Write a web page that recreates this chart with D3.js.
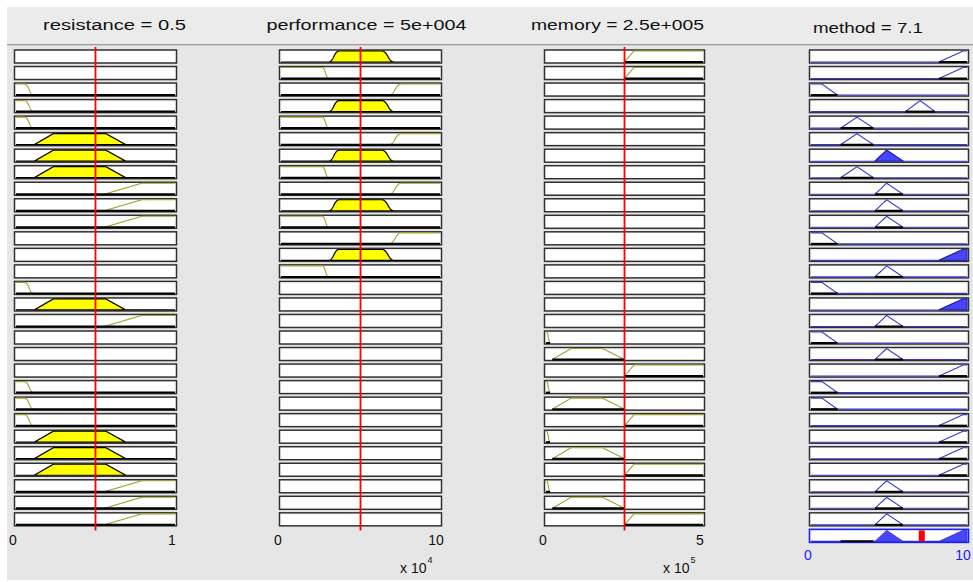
<!DOCTYPE html>
<html>
<head>
<meta charset="utf-8">
<script src="https://cdn.jsdelivr.net/npm/d3@7"></script>
<style>
  html, body { margin: 0; padding: 0; background: #ffffff; }
  svg { display: block; font-family: "Liberation Sans", Arial, sans-serif; }
</style>
</head>
<body>
<svg id="chart" width="973" height="582"></svg>
<script>
// ---- Fuzzy system: variables, current inputs and output ----
const variableNames = ["resistance", "performance", "memory", "method"];
const variableRanges = [[0, 1], [0, 10], [0, 5], [0, 10]];   // performance x1e4, memory x1e5
const inputValues = [0.5, 5, 2.5];
const outputValue = 7.1;
const titleLabels = ["resistance = 0.5", "performance = 5e+004", "memory = 2.5e+005", "method = 7.1"];
const tickLabels = [["0", "1"], ["0", "10"], ["0", "5"], ["0", "10"]];
const axisExponents = [null, "4", "5", null];

// Membership functions per variable: [type, params]
const resistanceMFs = [["zmf", [0.055, 0.11]], ["trapmf", [0.115, 0.235, 0.565, 0.69]], ["trapmf", [0.555, 0.79, 1, 1]]];
const performanceMFs = [["zmf", [2.6, 3.0]], ["pimf", [3.0, 3.65, 6.35, 7.1]], ["smf", [6.8, 7.55]]];
const memoryMFs = [["zmf", [0.02, 0.13]], ["trapmf", [0.2, 0.8, 1.8, 2.5]], ["trapmf", [2.5, 2.8, 5, 5]]];
const methodMFs = [["trapmf", [0, 0, 0.7, 1.7]], ["trimf", [1.9, 2.95, 4.0]], ["trimf", [4.1, 4.85, 5.9]],
                   ["trimf", [6.05, 7.0, 7.95]], ["trapmf", [8.2, 9.75, 10, 10]]];

// Rule base: membership function used by each rule (0 = variable not in the rule)
const resistanceRule  = [0,0,1,1,1,2,2,2,3,3,3,0,0,0,1,2,3,0,0,0,1,1,1,2,2,2,3,3,3];
const performanceRule = [2,1,3,2,1,3,2,1,3,2,1,3,2,1,0,0,0,0,0,0,0,0,0,0,0,0,0,0,0];
const memoryRule      = [3,3,0,0,0,0,0,0,0,0,0,0,0,0,0,0,0,1,2,3,1,2,3,1,2,3,1,2,3];
const methodRule      = [5,5,1,4,2,2,3,2,3,3,3,1,5,3,1,5,3,1,3,5,1,1,5,5,5,5,3,3,3];
const ruleFiring      = [0,0,0,0,0,0,1,0,0,0,0,0,1,0,0,1,0,0,0,0,0,0,0,0,0,0,0,0,0];
// output terms whose zero-level patch shows in the aggregate row
const aggregateZeroTerms = [2];

// ---- membership function evaluation ----
function smf(x, [a, b]) {
  if (x <= a) return 0;
  if (x >= b) return 1;
  const m = (a + b) / 2;
  if (x <= m) return 2 * Math.pow((x - a) / (b - a), 2);
  return 1 - 2 * Math.pow((x - b) / (b - a), 2);
}
function evalMF([type, p], x) {
  if (type === "trimf") {
    const [a, b, c] = p;
    const l = b === a ? (x >= a ? 1 : 0) : (x - a) / (b - a);
    const r = c === b ? (x <= c ? 1 : 0) : (c - x) / (c - b);
    return Math.max(0, Math.min(l, r));
  }
  if (type === "trapmf") {
    const [a, b, c, d] = p;
    const l = b === a ? (x >= a ? 1 : 0) : (x - a) / (b - a);
    const r = d === c ? (x <= d ? 1 : 0) : (d - x) / (d - c);
    return Math.max(0, Math.min(l, 1, r));
  }
  if (type === "smf") return smf(x, p);
  if (type === "zmf") return 1 - smf(x, p);
  if (type === "pimf") return smf(x, [p[0], p[1]]) * (1 - smf(x, [p[2], p[3]]));
  return 0;
}
function samplePoints(domain, mf) {
  const [d0, d1] = domain;
  const xs = d3.range(0, 601).map(i => d0 + (d1 - d0) * i / 600)
    .concat(mf[1].filter(v => v >= d0 && v <= d1));
  return Array.from(new Set(xs)).sort((a, b) => a - b);
}

// ---- layout ----
const W = 973, H = 582;
const colPixels = [[16, 175], [281, 440], [546, 703], [811, 967]];
const patchFullWidth = [true, true, false, false];
const nRules = methodRule.length;
const rowBand = d3.scaleLinear().domain([0, nRules]).range([50, 50 + nRules * 16.53]);
const boxH = 13;
const allMFs = [resistanceMFs, performanceMFs, memoryMFs, methodMFs];
const allRules = [resistanceRule, performanceRule, memoryRule, methodRule];

const svg = d3.select("#chart");
svg.append("rect").attr("x", 7).attr("y", 7).attr("width", W - 7).attr("height", H - 9).attr("fill", "#e6e6e6");
svg.append("rect").attr("x", 7).attr("y", 7).attr("width", W - 7).attr("height", 37).attr("fill", "#ebebeb");
svg.append("line").attr("x1", 7).attr("x2", W).attr("y1", 44.5).attr("y2", 44.5).attr("stroke", "#9c9c9c");
svg.append("line").attr("x1", 7).attr("x2", W).attr("y1", 45.5).attr("y2", 45.5).attr("stroke", "#cfcfcf");

// titles
const titleSpans = [[43, 143], [266.5, 200], [531, 173], [813, 110]];
const titleBase = [29.5, 29.5, 29.5, 32.5];
titleLabels.forEach((t, c) => {
  svg.append("text").attr("x", titleSpans[c][0]).attr("y", titleBase[c])
    .attr("font-size", 14).attr("fill", "#111")
    .attr("textLength", titleSpans[c][1]).attr("lengthAdjust", "spacingAndGlyphs")
    .text(t);
});

const olive = "#a2a02a";
const lineGen = d3.line();

function drawRow(c, r, isOutput) {
  const [px0, px1] = colPixels[c];
  const x = d3.scaleLinear().domain(variableRanges[c]).range([px0, px1]);
  const top = rowBand(r);
  const y = d3.scaleLinear().domain([0, 1]).range([top + boxH - 1, top + 1]);
  const g = svg.append("g");
  g.append("rect").attr("x", px0 - 1.5).attr("y", top).attr("width", px1 - px0 + 3).attr("height", boxH)
    .attr("fill", "#ffffff").attr("stroke", "#303030").attr("stroke-width", 1.5);
  const idx = allRules[c][r];
  if (!idx) return;
  const mf = allMFs[c][idx - 1];
  const xs = samplePoints(variableRanges[c], mf);
  const vals = xs.map(v => evalMF(mf, v));
  const level = isOutput ? ruleFiring[r] : evalMF(mf, inputValues[c]);
  // support of the MF (points with positive membership plus the feet)
  const sup = vals.map((v, i) => v > 0 || vals[i - 1] > 0 || vals[i + 1] > 0);
  const span = patchFullWidth[c] ? xs.map(() => true) : sup;
  const spanIdx = span.map((s, i) => s ? i : -1).filter(i => i >= 0);
  const s0 = xs[spanIdx[0]], s1 = xs[spanIdx[spanIdx.length - 1]];

  if (isOutput) {
    g.append("path").attr("d", lineGen(xs.map((v, i) => [x(v), y(vals[i])])))
      .attr("fill", "none").attr("stroke", "#3838cc").attr("stroke-width", 1.1);
  } else {
    const line = d3.line().defined((d, i) => sup[i]);
    g.append("path").attr("d", line(xs.map((v, i) => [x(v), y(vals[i])])))
      .attr("fill", "none").attr("stroke", olive).attr("stroke-width", 1.1);
  }
  if (level > 0) {
    const pts = spanIdx.map(i => [x(xs[i]), y(Math.min(vals[i], level))]);
    pts.push([x(s1), y(0)]); pts.unshift([x(s0), y(0)]);
    g.append("path").attr("d", lineGen(pts) + "Z")
      .attr("fill", isOutput ? "#4646ff" : "#ffff00")
      .attr("stroke", isOutput ? "#2626a8" : "#000000").attr("stroke-width", 1.2);
  } else {
    g.append("line").attr("x1", x(s0)).attr("x2", x(s1)).attr("y1", y(0)).attr("y2", y(0))
      .attr("stroke", "#000").attr("stroke-width", 2);
  }
}

for (let c = 0; c < 4; c++) {
  for (let r = 0; r < nRules; r++) drawRow(c, r, c === 3);
}

// aggregated output row
{
  const c = 3;
  const [px0, px1] = colPixels[c];
  const x = d3.scaleLinear().domain(variableRanges[c]).range([px0, px1]);
  const top = rowBand(nRules);
  const y = d3.scaleLinear().domain([0, 1]).range([top + boxH - 1, top + 1]);
  svg.append("rect").attr("x", px0 - 1.5).attr("y", top).attr("width", px1 - px0 + 3).attr("height", boxH)
    .attr("fill", "#ffffff").attr("stroke", "#1c1cff").attr("stroke-width", 1.6);
  const xs = d3.range(0, 801).map(i => variableRanges[c][0] + (variableRanges[c][1] - variableRanges[c][0]) * i / 800)
    .concat(...methodMFs.map(m => m[1])).filter(v => v >= 0 && v <= 10).sort((a, b) => a - b);
  const agg = xs.map(v => d3.max(methodRule, (m, r) => Math.min(ruleFiring[r], evalMF(methodMFs[m - 1], v))));
  const pts = xs.map((v, i) => [x(v), y(agg[i])]);
  svg.append("path").attr("d", lineGen([[x(xs[0]), y(0)], ...pts, [x(xs[xs.length - 1]), y(0)]]) + "Z")
    .attr("fill", "#4646ff").attr("stroke", "#2a2acc").attr("stroke-width", 1);
  aggregateZeroTerms.forEach(t => {
    const p = methodMFs[t - 1][1];
    svg.append("line").attr("x1", x(p[0])).attr("x2", x(p[p.length - 1])).attr("y1", y(0)).attr("y2", y(0))
      .attr("stroke", "#000").attr("stroke-width", 2);
  });
  svg.append("rect").attr("x", x(outputValue) - 3).attr("y", top + 1).attr("width", 6).attr("height", boxH - 2)
    .attr("fill", "#ff0000");
}

// input value indicators
for (let c = 0; c < 3; c++) {
  const x = d3.scaleLinear().domain(variableRanges[c]).range(colPixels[c]);
  svg.append("line").attr("x1", x(inputValues[c])).attr("x2", x(inputValues[c]))
    .attr("y1", 47).attr("y2", 530.5).attr("stroke", "#ff0000").attr("stroke-width", 1.8);
}

// axis tick labels
const tickBase = [545, 545, 545, 560];
tickLabels.forEach((ticks, c) => {
  const x = d3.scaleLinear().domain(variableRanges[c]).range(colPixels[c]);
  const dom = variableRanges[c];
  ticks.forEach((t, k) => {
    svg.append("text").attr("x", x(dom[k]) - 3 + (t.length > 1 ? -1 : 0)).attr("y", tickBase[c])
      .attr("text-anchor", "middle").attr("font-size", 14)
      .attr("fill", c === 3 ? "#1a1aff" : "#111").text(t);
  });
  if (axisExponents[c]) {
    const ex = x(dom[1]);
    const t = svg.append("text").attr("x", ex - 40).attr("y", 573).attr("font-size", 14).attr("fill", "#111");
    t.append("tspan").text("x 10");
    t.append("tspan").attr("font-size", 9).attr("dy", -10).attr("dx", 1).text(axisExponents[c]);
  }
});
</script>
</body>
</html>
